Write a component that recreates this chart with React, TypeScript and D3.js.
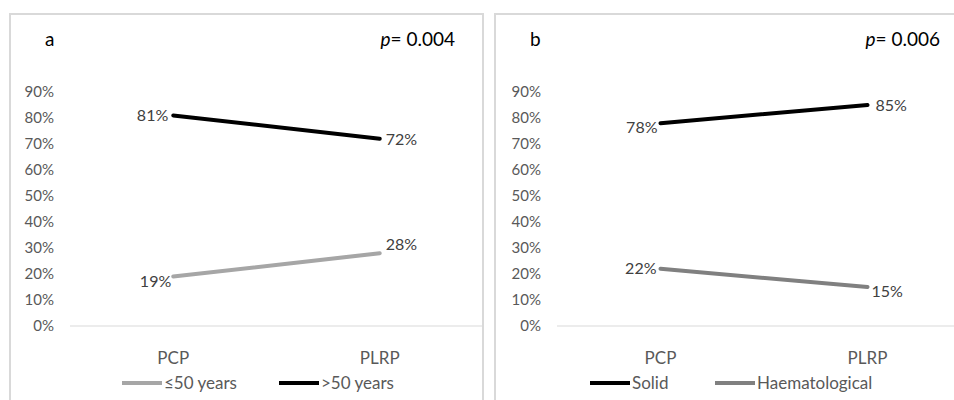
import React, { useRef, useEffect } from 'react';
import { select, scaleLinear, scalePoint, line } from 'd3';

const categories = ['PCP', 'PLRP'];
const yTicks = [0, 10, 20, 30, 40, 50, 60, 70, 80, 90];

const youngValues = [19, 28];
const oldValues = [81, 72];
const solidValues = [78, 85];
const haemValues = [22, 15];

const FONT = 'Lato, "Open Sans", sans-serif';

type Series = {
  name: string;
  values: number[];
  color: string;
  // label offsets [dx, dy, anchor] for each point
  labels: [number, number, string][];
};

type PanelProps = {
  left: number;
  right: number;
  pRight: number;
  plotLeft: number;
  plotRight: number;
  letter: string;
  pText: string;
  series: Series[];
  legendX: number[];
};

function Panel({ left, right, pRight, plotLeft, plotRight, letter, pText, series, legendX }: PanelProps) {
  const gRef = useRef<SVGGElement>(null);

  useEffect(() => {
    const g = select(gRef.current);
    g.selectAll('*').remove();

    const x = scalePoint<string>().domain(categories).range([plotLeft, plotRight]).padding(0.5);
    const y = scaleLinear().domain([0, 100]).range([326, 66]);

    // frame
    g.append('rect')
      .attr('x', left)
      .attr('y', 14)
      .attr('width', right - left)
      .attr('height', 400)
      .attr('fill', '#fff')
      .attr('stroke', '#d9d9d9')
      .attr('stroke-width', 2);

    g.append('text')
      .attr('x', left + 35)
      .attr('y', 46)
      .attr('font-family', FONT)
      .attr('font-size', 19)
      .attr('fill', '#000')
      .text(letter);

    const pt = g.append('text')
      .attr('x', pRight)
      .attr('y', 46)
      .attr('text-anchor', 'end')
      .attr('font-family', FONT)
      .attr('font-size', 19)
      .attr('fill', '#000');
    pt.append('tspan').attr('font-style', 'italic').text('p');
    pt.append('tspan').text('= ' + pText);

    // y tick labels
    g.selectAll('text.ytick')
      .data(yTicks)
      .join('text')
      .attr('class', 'ytick')
      .attr('x', plotLeft - 16)
      .attr('y', d => y(d) + 5)
      .attr('text-anchor', 'end')
      .attr('font-family', FONT)
      .attr('font-size', 15)
      .attr('fill', '#595959')
      .text(d => d + '%');

    // baseline
    g.append('line')
      .attr('x1', plotLeft)
      .attr('x2', plotRight)
      .attr('y1', y(0))
      .attr('y2', y(0))
      .attr('stroke', '#d9d9d9')
      .attr('stroke-width', 1);

    // category labels
    g.selectAll('text.xcat')
      .data(categories)
      .join('text')
      .attr('class', 'xcat')
      .attr('x', d => x(d) as number)
      .attr('y', 364)
      .attr('text-anchor', 'middle')
      .attr('font-family', FONT)
      .attr('font-size', 17)
      .attr('fill', '#595959')
      .text(d => d);

    const path = line<number>()
      .x((_, i) => x(categories[i]) as number)
      .y(d => y(d));

    series.forEach((s, si) => {
      g.append('path')
        .attr('d', path(s.values))
        .attr('fill', 'none')
        .attr('stroke', s.color)
        .attr('stroke-width', 4)
        .attr('stroke-linecap', 'round');

      s.values.forEach((v, i) => {
        const [dx, dy, anchor] = s.labels[i];
        g.append('text')
          .attr('x', (x(categories[i]) as number) + dx)
          .attr('y', y(v) + dy)
          .attr('text-anchor', anchor)
          .attr('font-family', FONT)
          .attr('font-size', 16)
          .attr('fill', '#404040')
          .text(v + '%');
      });

      // legend
      const lx = legendX[si];
      g.append('line')
        .attr('x1', lx)
        .attr('x2', lx + 40)
        .attr('y1', 383)
        .attr('y2', 383)
        .attr('stroke', s.color)
        .attr('stroke-width', 4);
      g.append('text')
        .attr('x', lx + 42)
        .attr('y', 389)
        .attr('font-family', FONT)
        .attr('font-size', 17)
        .attr('fill', '#595959')
        .text(s.name);
    });
  }, [left, right, pRight, plotLeft, plotRight, letter, pText, series, legendX]);

  return <g ref={gRef} />;
}

const seriesA: Series[] = [
  {
    name: '≤50 years',
    values: youngValues,
    color: '#a6a6a6',
    labels: [[-2, 10, 'end'], [6, -3, 'start']],
  },
  {
    name: '>50 years',
    values: oldValues,
    color: '#000000',
    labels: [[-5, 6, 'end'], [6, 6, 'start']],
  },
];

const seriesB: Series[] = [
  {
    name: 'Solid',
    values: solidValues,
    color: '#000000',
    labels: [[-3, 10, 'end'], [8, 6, 'start']],
  },
  {
    name: 'Haematological',
    values: haemValues,
    color: '#808080',
    labels: [[-4, 5, 'end'], [4, 10, 'start']],
  },
];

export default function App() {
  return (
    <svg
      xmlns="http://www.w3.org/2000/svg"
      width="954"
      height="400"
      viewBox="0 0 954 400"
      style={{ position: 'absolute', left: 0, top: 0, background: '#fff' }}
    >
      <rect width="954" height="400" fill="#fff" />
      <Panel
        left={10}
        right={483}
        pRight={455}
        plotLeft={70}
        plotRight={483}
        letter="a"
        pText="0.004"
        series={seriesA}
        legendX={[122, 279]}
      />
      <Panel
        left={495}
        right={980}
        pRight={940}
        plotLeft={557}
        plotRight={971}
        letter="b"
        pText="0.006"
        series={seriesB}
        legendX={[590, 715]}
      />
    </svg>
  );
}
